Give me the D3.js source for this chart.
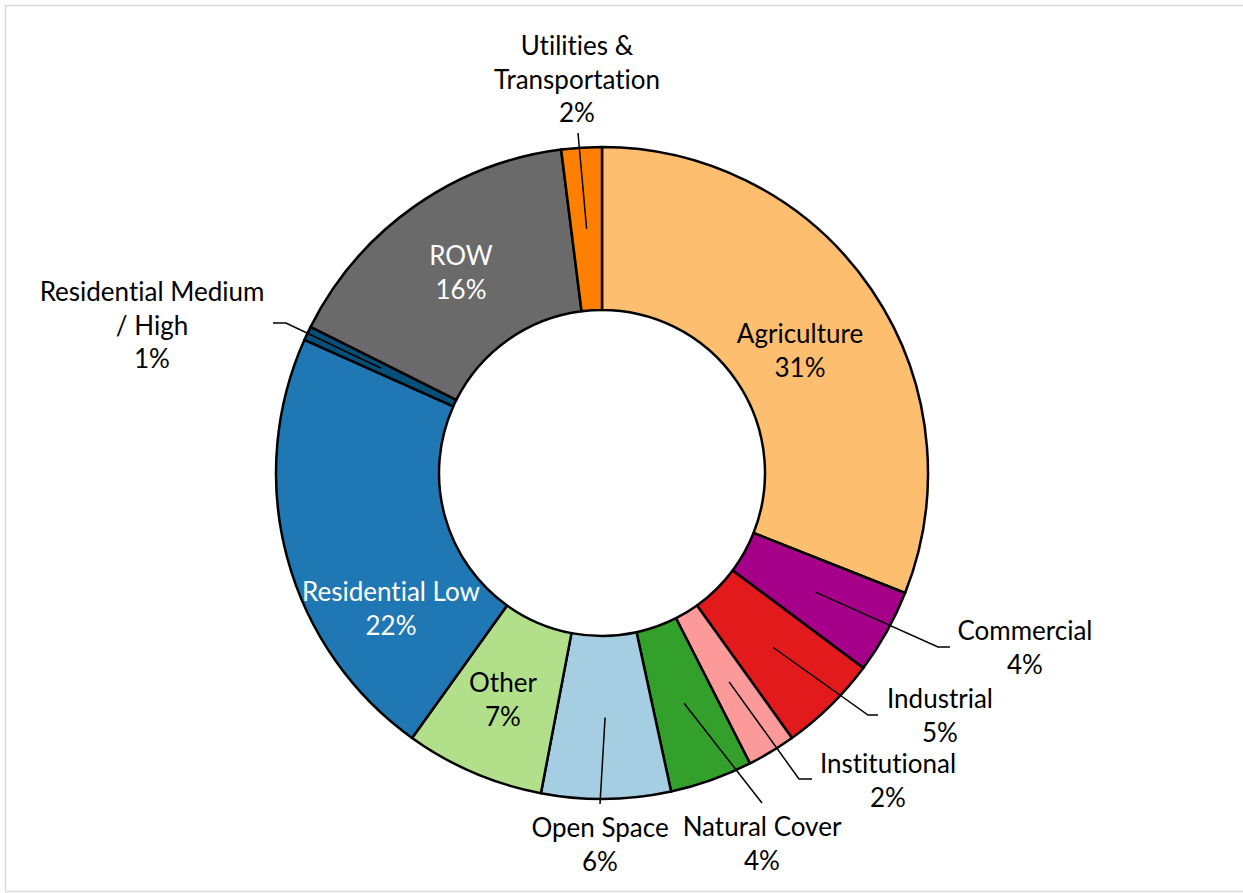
<!DOCTYPE html>
<html>
<head>
<meta charset="utf-8">
<script src="https://cdn.jsdelivr.net/npm/d3@7"></script>
<style>
  body { margin: 0; background: #fff; }
  svg { display: block; }
  text { font-family: Lato, "Noto Sans", sans-serif; font-variant-ligatures: none; }
</style>
</head>
<body>
<svg id="chart" width="1243" height="893"></svg>
<script>
// Land use shares (percent of total area), clockwise from 12 o'clock
const categories = [
  "Agriculture", "Commercial", "Industrial", "Institutional", "Natural Cover",
  "Open Space", "Other", "Residential Low", "Residential Medium / High",
  "ROW", "Utilities & Transportation"
];
const shares = [31.0, 4.2, 4.9, 2.4, 4.1, 6.4, 6.9, 21.8, 0.7, 15.6, 2.0];
const colors = [
  "#FDBF6F", "#A6008A", "#E31A1C", "#FB9A99", "#33A02C",
  "#A6CEE3", "#B2DF8A", "#1F78B4", "#05507A", "#6A6A6A", "#FF7F00"
];
// How each category name wraps onto lines
const nameLines = {
  "Residential Medium / High": ["Residential Medium", "/ High"],
  "Utilities & Transportation": ["Utilities &", "Transportation"],
  "Residential Low": ["Residential Low"]
};

// Label placement: centre x and y of the first line; leader polyline after the slice centroid
const labelLayout = {
  "Agriculture": { at: [800, 334], color: "#000" },
  "Commercial": { at: [1025, 631], color: "#000", leader: [[938, 647], [950, 647]] },
  "Industrial": { at: [940, 699], color: "#000", leader: [[868, 715], [878, 715]] },
  "Institutional": { at: [888, 764], color: "#000", leader: [[799, 779], [812, 779]] },
  "Natural Cover": { at: [762, 827], color: "#000", leader: [[762, 803]] },
  "Open Space": { at: [600, 828], color: "#000", leader: [[600, 804]] },
  "Other": { at: [503, 683], color: "#000" },
  "Residential Low": { at: [391, 592], color: "#fff" },
  "Residential Medium / High": { at: [152, 292], color: "#000", leader: [[286, 323], [273, 323]] },
  "ROW": { at: [461, 256], color: "#fff" },
  "Utilities & Transportation": { at: [577, 46], color: "#000", leader: [[578, 133]] }
};

const data = categories.map((c, i) => ({ name: c, value: shares[i], color: colors[i] }));
const total = d3.sum(data, d => d.value);

const svg = d3.select("#chart");
const cx = 602, cy = 473;
const outerR = 326, innerR = 163;
const fontSize = 26, lineH = 33.5;

// chart area frame
svg.append("rect")
  .attr("x", 5.5).attr("y", 5.5)
  .attr("width", 1245).attr("height", 886)
  .attr("fill", "none").attr("stroke", "#d9d9d9").attr("stroke-width", 1.5);

const pie = d3.pie().sort(null).value(d => d.value);
const arc = d3.arc().innerRadius(innerR).outerRadius(outerR);
const arcs = pie(data);

const g = svg.append("g").attr("transform", `translate(${cx},${cy})`);

g.selectAll("path.slice")
  .data(arcs)
  .join("path")
  .attr("class", "slice")
  .attr("d", arc)
  .attr("fill", d => d.data.color)
  .attr("stroke", "#000")
  .attr("stroke-width", 2.5)
  .attr("stroke-linejoin", "round");

// leader lines from slice centroids to their labels
const line = d3.line();
arcs.forEach(a => {
  const lay = labelLayout[a.data.name];
  if (!lay.leader) return;
  const [x0, y0] = arc.centroid(a);
  const pts = [[x0 + cx, y0 + cy], ...lay.leader];
  svg.append("path")
    .attr("d", line(pts))
    .attr("fill", "none")
    .attr("stroke", "#000")
    .attr("stroke-width", 1.5);
});

// labels: category name plus rounded percent
arcs.forEach(a => {
  const lay = labelLayout[a.data.name];
  const lines = (nameLines[a.data.name] || [a.data.name]).slice();
  lines.push(Math.round(a.data.value / total * 100) + "%");
  const t = svg.append("text")
    .attr("text-anchor", "middle")
    .attr("font-size", fontSize)
    .attr("fill", lay.color);
  lines.forEach((s, i) => {
    t.append("tspan")
      .attr("x", lay.at[0])
      .attr("y", lay.at[1] + i * lineH)
      .attr("dy", "0.35em")
      .text(s);
  });
});
</script>
</body>
</html>
